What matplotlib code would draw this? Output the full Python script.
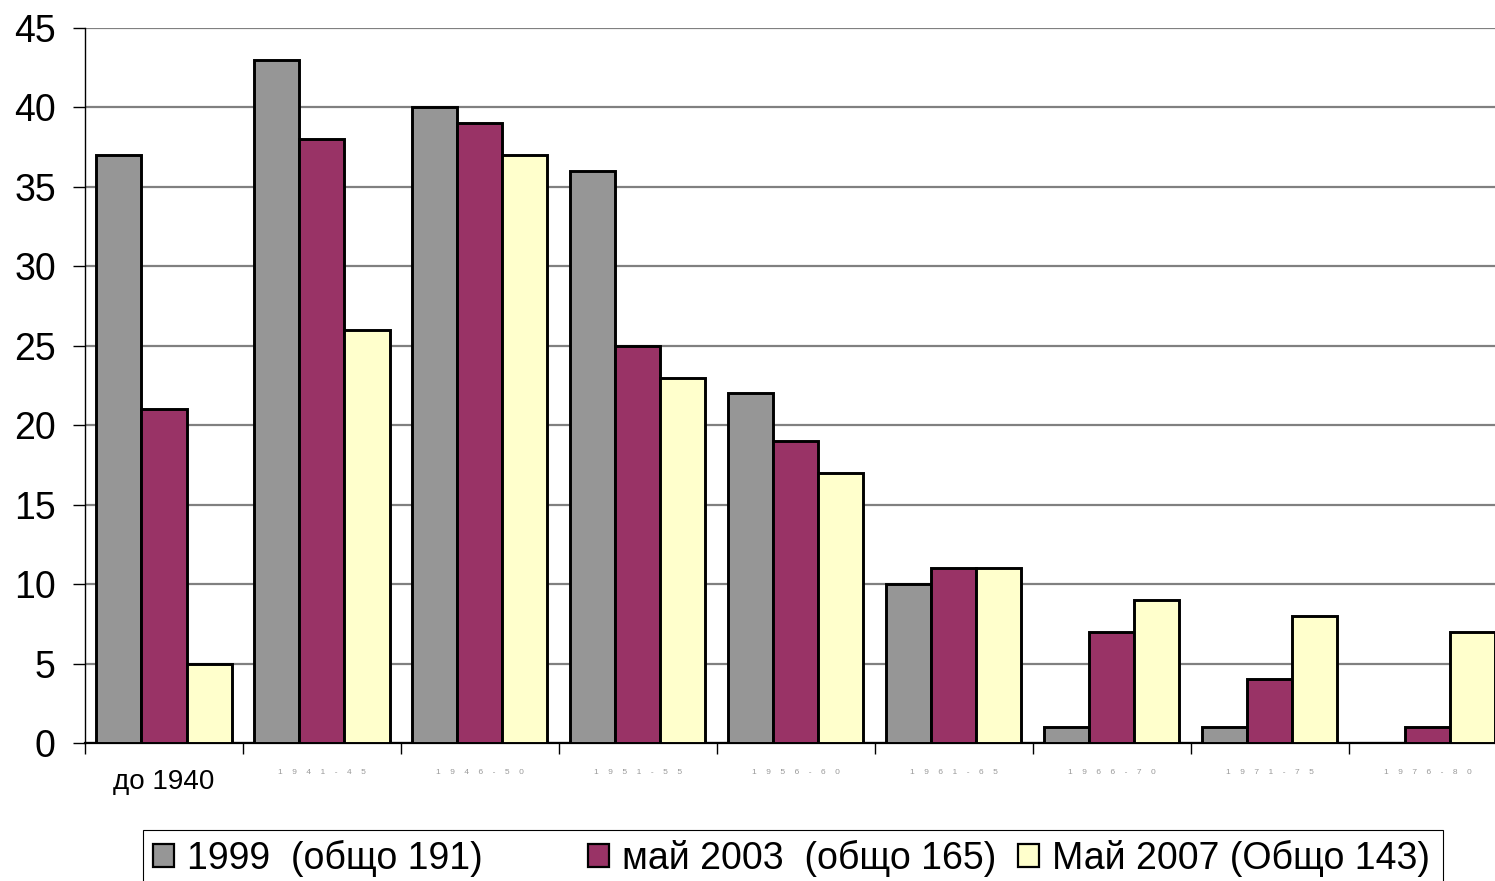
import numpy as np
import matplotlib.pyplot as plt
from matplotlib.patches import Rectangle

plt.rcParams['font.family'] = ['Liberation Sans', 'DejaVu Sans']

periods = ['до 1940', '1941-45', '1946-50', '1951-55', '1956-60',
           '1961-65', '1966-70', '1971-75', '1976-80']
s1999 = [37, 43, 40, 36, 22, 10, 1, 1, 0]
s2003 = [21, 38, 39, 25, 19, 11, 7, 4, 1]
s2007 = [5, 26, 37, 23, 17, 11, 9, 8, 7]
labels = ['1999  (общо 191)', 'май 2003  (общо 165)', 'Май 2007 (Общо 143)']
colors = ['#969696', '#993366', '#FFFFCC']

fig = plt.figure(figsize=(14.95, 8.81), dpi=100)
ax = fig.add_axes([85 / 1495, 138 / 881, 1 - 85 / 1495, 715 / 881])

x = np.arange(len(periods)) + 0.5
w = 0.285
bars = []
for k, (vals, c) in enumerate(zip([s1999, s2003, s2007], colors)):
    b = ax.bar(x + (k - 1) * w, vals, w, color=c, edgecolor='black',
               linewidth=2.1, zorder=3)
    bars.append(b)

ax.set_ylim(0, 45)
ax.set_xlim(0, 8.925)
ax.set_yticks(range(0, 46, 5))
ax.yaxis.grid(True, color='#808080', linewidth=1.6, zorder=0)
ax.tick_params(axis='y', labelsize=27, length=9, width=1, direction='out', pad=12)

ax.set_xticks(np.arange(len(periods)))
ax.tick_params(axis='x', which='major', length=8, width=1, labelbottom=False)
ax.set_xticks(x, minor=True)
ax.tick_params(axis='x', which='minor', length=0, pad=19)
ax.set_xticklabels([periods[0]] + ['    '.join(p) for p in periods[1:]],
                   minor=True)
lbls = ax.get_xticklabels(minor=True)
lbls[0].set_fontsize(20)
for t in lbls[1:]:
    t.set_fontsize(6)
    t.set_color('#999999')

for s in ['top', 'right']:
    ax.spines[s].set_visible(False)
ax.spines['left'].set_linewidth(1)
ax.spines['bottom'].set_linewidth(1.6)

# legend frame
fig.patches.append(Rectangle((143 / 1495, -0.05), 1300 / 1495, 0.05 + 51 / 881,
                             transform=fig.transFigure, fill=False,
                             edgecolor='black', linewidth=0.8))
xs = [153, 588, 1018]
for b, lab, xp in zip(bars, labels, xs):
    lg = fig.legend([b], [lab], loc='center left',
                    bbox_to_anchor=(xp / 1495, 1 - 858 / 881),
                    frameon=False, fontsize=27, handlelength=0.55,
                    handleheight=0.55, handletextpad=0.35, borderpad=0,
                    borderaxespad=0)
    for h in lg.legend_handles:
        h.set_linewidth(1.6)

fig.savefig('out.png', dpi=100)
